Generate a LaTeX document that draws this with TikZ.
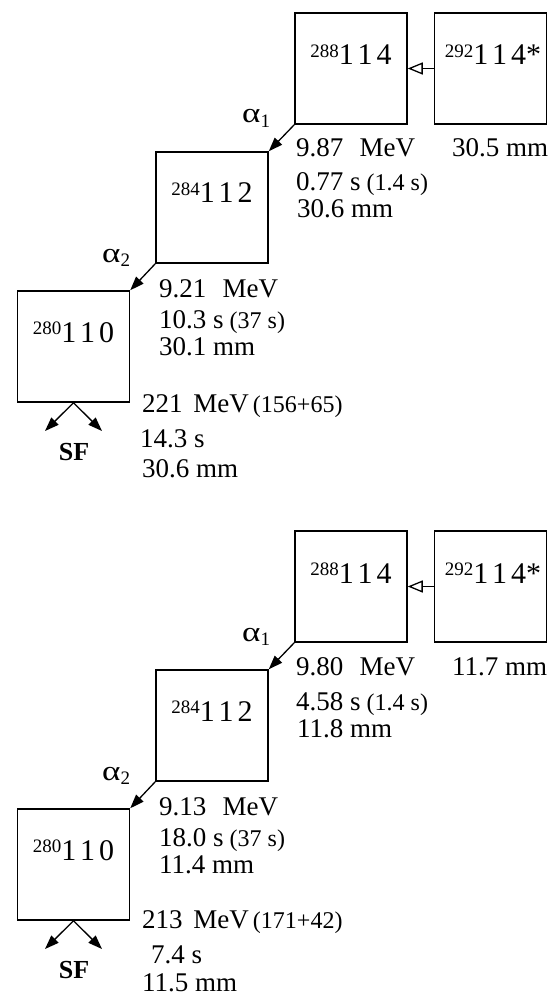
\documentclass[tikz,border=0pt]{standalone}
\usepackage{fontspec}
\setmainfont{Liberation Serif}
\usetikzlibrary{arrows.meta,positioning}

% nuclide label: small mass number, spaced element number
\newcommand{\nuclide}[4]{{\fontsize{19}{19}\selectfont\raisebox{7.3pt}{#1}}#2\kern4pt#3\kern4pt#4}
\newcommand{\paren}[1]{{\fontsize{24}{24}\selectfont #1}}
\newcommand{\alphadecay}[1]{{\fontsize{28}{28}\selectfont\scalebox{1.25}[1]{α}}\raisebox{-4.5pt}{\fontsize{19}{19}\selectfont #1}}

\begin{document}
\begin{tikzpicture}[x=1pt, y=-1pt,
  box/.style={draw, line width=1.5pt, minimum width=112pt, minimum height=111pt, inner sep=0pt},
  iso/.style={anchor=base, inner sep=0pt, font=\fontsize{30}{30}\selectfont},
  txt/.style={anchor=base west, inner sep=0pt, font=\fontsize{27}{27}\selectfont},
  sf/.style={anchor=base, inner sep=0pt, font=\fontsize{26}{26}\selectfont\bfseries},
  decay/.style={line width=1.3pt, -{Triangle[length=14pt,width=10pt]}},
  capture/.style={line width=1.3pt, -{Triangle[open,length=15pt,width=12pt]}}]

\useasboundingbox (0,0) rectangle (548,995);

% ---- first chain
\node[box] (a288) at (351,68.5) {};
\node[box] (a292) at (490.5,68.5) {};
\node[box] (a284) at (212,207.5) {};
\node[box] (a280) at (73.5,346.5) {};

\node[iso] (la288) at (351,65) {\nuclide{288}{1}{1}{4}};
\node[iso] (la292) at (493,65) {\nuclide{292}{1}{1}{4*}};
\node[iso] (la284) at (212,203) {\nuclide{284}{1}{1}{2}};
\node[iso] (la280) at (73.5,342) {\nuclide{280}{1}{1}{0}};

\draw[capture] (a292.west) -- (a288.east);
\draw[decay] (a288.south west) -- (a284.north east);
\draw[decay] (a284.south west) -- (a280.north east);

\coordinate (asfl) at (45,431);
\coordinate (asfr) at (102,431);
\draw[decay] (a280.south) -- (asfl);
\draw[decay] (a280.south) -- (asfr);
\node[sf] (asf) at (74,460) {SF};

\node[txt] (aa1) at (242,123) {\alphadecay{1}};
\node[txt] (aa2) at (102,262) {\alphadecay{2}};

\node[txt] (ae1) at (296,157) {9.87\hspace{0.6em}MeV};
\node[txt] (ar0) at (452,157) {30.5 mm};
\node[txt] (at1) at (296,190) {0.77 s\hspace{6pt}\paren{(1.4 s)}};
\node[txt] (ar1) at (297,217) {30.6 mm};
\node[txt] (ae2) at (159,297) {9.21\hspace{0.6em}MeV};
\node[txt] (at2) at (159,328) {10.3 s\hspace{6pt}\paren{(37 s)}};
\node[txt] (ar2) at (159,355) {30.1 mm};
\node[txt] (ae3) at (142,412) {221\hspace{0.4em}MeV\paren{\,(156+65)}};
\node[txt] (at3) at (140,447) {14.3 s};
\node[txt] (ar3) at (142,477) {30.6 mm};

% ---- second chain
\node[box] (b288) at (351,586.5) {};
\node[box] (b292) at (490.5,586.5) {};
\node[box] (b284) at (212,725.5) {};
\node[box] (b280) at (73.5,864.5) {};

\node[iso] (lb288) at (351,583) {\nuclide{288}{1}{1}{4}};
\node[iso] (lb292) at (493,583) {\nuclide{292}{1}{1}{4*}};
\node[iso] (lb284) at (212,721) {\nuclide{284}{1}{1}{2}};
\node[iso] (lb280) at (73.5,860) {\nuclide{280}{1}{1}{0}};

\draw[capture] (b292.west) -- (b288.east);
\draw[decay] (b288.south west) -- (b284.north east);
\draw[decay] (b284.south west) -- (b280.north east);

\coordinate (bsfl) at (45,949);
\coordinate (bsfr) at (102,949);
\draw[decay] (b280.south) -- (bsfl);
\draw[decay] (b280.south) -- (bsfr);
\node[sf] (bsf) at (74,978) {SF};

\node[txt] (ba1) at (242,641) {\alphadecay{1}};
\node[txt] (ba2) at (102,780) {\alphadecay{2}};

\node[txt] (be1) at (296,675) {9.80\hspace{0.6em}MeV};
\node[txt] (br0) at (452,675) {11.7 mm};
\node[txt] (bt1) at (296,710) {4.58 s\hspace{6pt}\paren{(1.4 s)}};
\node[txt] (br1) at (297,737) {11.8 mm};
\node[txt] (be2) at (159,815) {9.13\hspace{0.6em}MeV};
\node[txt] (bt2) at (159,846) {18.0 s\hspace{6pt}\paren{(37 s)}};
\node[txt] (br2) at (159,873) {11.4 mm};
\node[txt] (be3) at (142,928) {213\hspace{0.4em}MeV\paren{\,(171+42)}};
\node[txt] (bt3) at (151,963) {7.4 s};
\node[txt] (br3) at (142,991) {11.5 mm};

\end{tikzpicture}
\end{document}
